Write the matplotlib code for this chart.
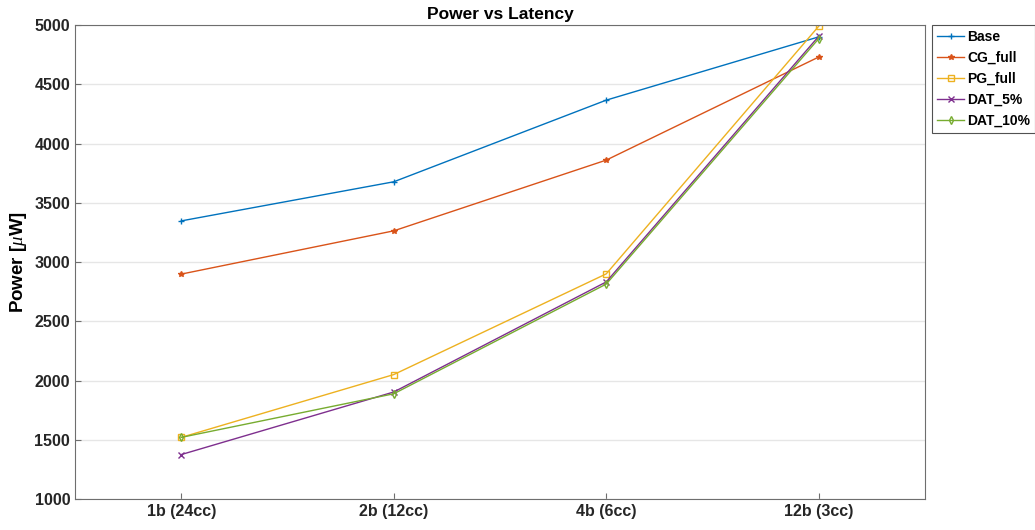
import numpy as np
import matplotlib.pyplot as plt

plt.rcParams['font.family'] = ['Liberation Sans', 'DejaVu Sans']
plt.rcParams['mathtext.fontset'] = 'custom'
plt.rcParams['mathtext.it'] = 'Liberation Serif:italic'

# data
labels = ['1b (24cc)', '2b (12cc)', '4b (6cc)', '12b (3cc)']
base = [3347, 3677, 4366, 4900]
cg_full = [2898, 3263, 3860, 4730]
pg_full = [1520, 2050, 2900, 4990]
dat_5 = [1375, 1903, 2832, 4905]
dat_10 = [1520, 1888, 2814, 4885]

series = [('Base', base, '#0072BD', '+'),
          ('CG_full', cg_full, '#D95319', '*'),
          ('PG_full', pg_full, '#EDB120', 's'),
          ('DAT_5%', dat_5, '#7E2F8E', 'x'),
          ('DAT_10%', dat_10, '#77AC30', 'd')]

fig = plt.figure(figsize=(10.35, 5.3), dpi=100)
ax = fig.add_axes([0.0725, 0.0585, 0.8212, 0.8943])
x = np.arange(len(labels))
for name, vals, col, mk in series:
    ax.plot(x, vals, color=col, marker=mk, markersize=4, linewidth=1,
            markerfacecolor='none' if mk in ('s', 'd') else col, label=name)

ax.set_xlim(-0.5, 3.5)
ax.set_ylim(1000, 5000)
ax.set_xticks(x)
ax.set_xticklabels(labels)
ax.set_yticks(np.arange(1000, 5001, 500))
ax.yaxis.grid(True, color='#e6e6e6', linewidth=1)
ax.set_axisbelow(True)
ax.tick_params(direction='in', labelsize=11.5, labelcolor='#262626',
               color='#6e6e6e', length=4)
for t in ax.get_xticklabels() + ax.get_yticklabels():
    t.set_fontweight('bold')
for s in ax.spines.values():
    s.set_color('#6e6e6e')
    s.set_linewidth(0.8)
ax.set_ylabel('Power [$\\mu$W]', fontsize=13.5, fontweight='bold', labelpad=4)
ax.set_title('Power vs Latency', fontsize=12.5, fontweight='bold', pad=4)
leg = ax.legend(loc='upper left', bbox_to_anchor=(1.008, 1.0),
                prop={'weight': 'bold', 'size': 10}, frameon=True, fancybox=False,
                edgecolor='#262626', handlelength=2.0, handletextpad=0.2,
                borderpad=0.35, labelspacing=0.5, borderaxespad=0)
leg.get_frame().set_linewidth(0.8)

fig.savefig('out.png', dpi=100)
